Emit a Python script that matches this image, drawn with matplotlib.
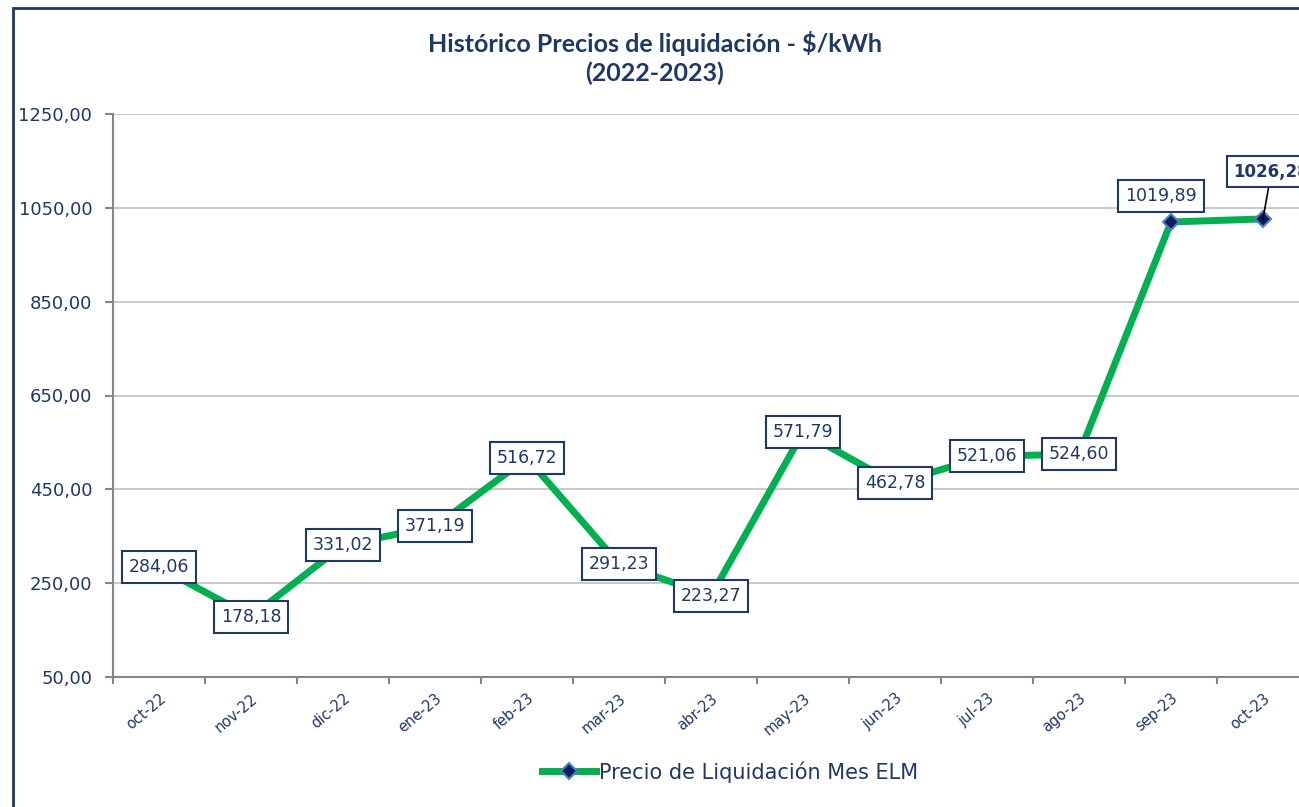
import numpy as np
import matplotlib.pyplot as plt
from matplotlib.patches import Rectangle
from matplotlib.ticker import FuncFormatter, FixedLocator

# Precios de liquidación mensuales ($/kWh)
meses = ['oct-22', 'nov-22', 'dic-22', 'ene-23', 'feb-23', 'mar-23', 'abr-23',
         'may-23', 'jun-23', 'jul-23', 'ago-23', 'sep-23', 'oct-23']
precios = [284.06, 178.18, 331.02, 371.19, 516.72, 291.23, 223.27,
           571.79, 462.78, 521.06, 524.60, 1019.89, 1026.28]

azul = '#1f3864'
verde = '#00b050'
plt.rcParams['font.family'] = ['DejaVu Sans']

def coma(v):
    return f"{v:.2f}".replace('.', ',')

fig = plt.figure(figsize=(12.99, 8.07), dpi=100)
ax = fig.add_axes([113/1299, 1-677/807, (1309-113)/1299, (677-114)/807])

x = np.arange(len(meses))
ax.plot(x, precios, color=verde, lw=5, marker='D', markersize=8,
        markerfacecolor='#0a1f5c', markeredgecolor='#4f81bd', markeredgewidth=1.5,
        label='Precio de Liquidación Mes ELM', zorder=3, solid_joinstyle='miter')

caja = dict(boxstyle='square,pad=0.4', fc='white', ec=azul, lw=1.5)
for i, v in enumerate(precios):
    if i == len(precios) - 1:
        ax.annotate(coma(v), (i, v), xytext=(6, 34), textcoords='offset points',
                    ha='center', va='center', fontsize=12, fontweight='bold', color=azul,
                    bbox=caja, zorder=5,
                    arrowprops=dict(arrowstyle='-', color='black', lw=1.2, shrinkA=0, shrinkB=0))
    elif i == len(precios) - 2:
        ax.annotate(coma(v), (i, v), xytext=(-7, 19), textcoords='offset points',
                    ha='center', va='center', fontsize=12.5, color=azul, bbox=caja, zorder=5)
    else:
        ax.text(i, v, coma(v), ha='center', va='center', fontsize=12.5, color=azul,
                bbox=caja, zorder=5)

ax.set_ylim(50, 1250)
ax.set_yticks(np.arange(50, 1251, 200))
ax.yaxis.set_major_formatter(FuncFormatter(lambda v, p: coma(v)))
ax.set_xlim(-0.5, len(meses) - 0.5)
ax.xaxis.set_major_locator(FixedLocator(np.arange(-0.5, len(meses), 1)))
ax.xaxis.set_major_formatter(FuncFormatter(lambda v, p: ''))
ax.set_xticks(x, minor=True)
ax.set_xticklabels(meses, minor=True, rotation=40, ha='right', rotation_mode='anchor',
                   fontsize=10.5, color=azul)
ax.tick_params(axis='x', which='minor', length=0, pad=10)
ax.tick_params(axis='x', which='major', length=5, width=1.5, color='#868686')
ax.tick_params(axis='y', length=6, width=1.5, color='#868686', labelsize=13,
               labelcolor=azul, pad=9)

ax.grid(axis='y', color='#c0c0c0', lw=1.2)
ax.set_axisbelow(True)
for s in ['top', 'right']:
    ax.spines[s].set_visible(False)
for s in ['left', 'bottom']:
    ax.spines[s].set_color('#868686')
    ax.spines[s].set_linewidth(1.5)

titulo = dict(ha='center', va='center', fontsize=18, fontweight='bold', color=azul,
              family=['Lato', 'DejaVu Sans'])
fig.text(655/1299, 1-44/807, 'Histórico Precios de liquidación - $/kWh', **titulo)
fig.text(655/1299, 1-73/807, '(2022-2023)', **titulo)

fig.legend(loc='center', bbox_to_anchor=(730/1299, 1-772/807), frameon=False,
           fontsize=15, labelcolor=azul, handlelength=2.6, handletextpad=0.15)

# Marco exterior del gráfico
fig.add_artist(Rectangle((13/1299, -0.1), 1.2, 1.1 - 8/807, transform=fig.transFigure,
                         fill=False, ec=azul, lw=2))

plt.savefig('out.png', dpi=100)
